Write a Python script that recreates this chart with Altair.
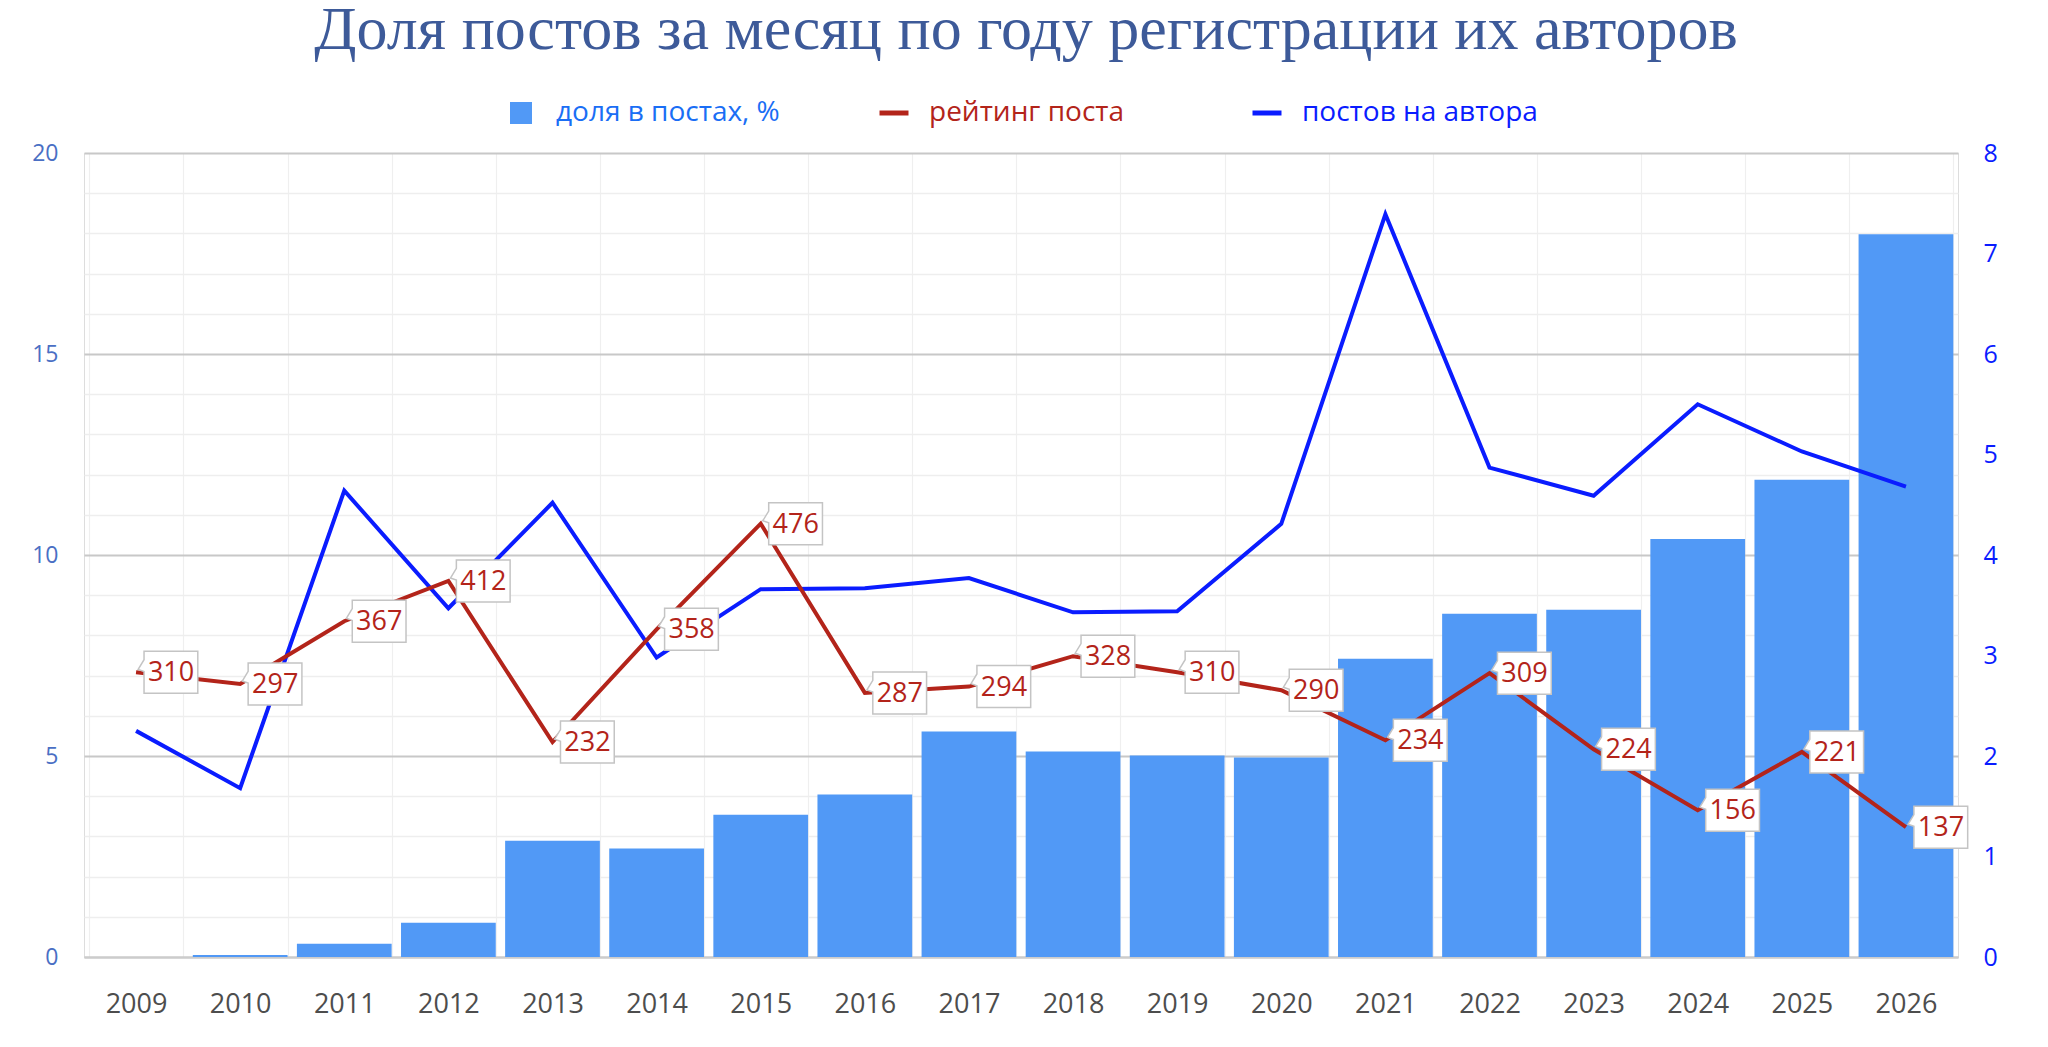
import altair as alt
import pandas as pd

years = [str(y) for y in range(2009, 2027)]
share_pct = [0.0, 0.05, 0.33, 0.85, 2.89, 2.70, 3.54, 4.04, 5.61, 5.11,
             5.01, 4.96, 7.42, 8.54, 8.64, 10.40, 11.87, 17.98]
rating = [310, 297, 367, 412, 232, 358, 476, 287, 294, 328,
          310, 290, 234, 309, 224, 156, 221, 137]
posts_per_author = [2.25, 1.68, 4.64, 3.47, 4.52, 2.98, 3.66, 3.67, 3.77, 3.43,
                    3.44, 4.31, 7.39, 4.87, 4.59, 5.50, 5.03, 4.68]

S_SHARE = "доля в постах, %"
S_RATING = "рейтинг поста"
S_PPA = "постов на автора"
TITLE = "Доля постов за месяц по году регистрации их авторов"

C_BAR = "#5199f6"
C_RED = "#b3241a"
C_BLUE = "#0a1cff"
C_LEG1 = "#1a6ef5"

df = pd.DataFrame({"year": years, "share": share_pct, "rating": rating, "ppa": posts_per_author})

FONT = "Open Sans"

x_enc = alt.X("year:N", title=None, sort=years,
              scale=alt.Scale(paddingInner=0.09, paddingOuter=0.045),
              axis=alt.Axis(labelAngle=0, labelFontSize=27, labelColor="#4d4d4d", labelFont=FONT,
                            ticks=False, labelPadding=34, domain=True, domainColor="#cccccc",
                            domainWidth=2, grid=True, gridColor="#efefef", gridWidth=1.2,
                            tickBand="extent"))

color_scale = alt.Scale(domain=[S_SHARE, S_RATING, S_PPA], range=[C_BAR, C_RED, C_BLUE])

sel1 = f"datum.value === '{S_SHARE}'"
col_expr = f"{sel1} ? '{C_BAR}' : datum.value === '{S_RATING}' ? '{C_RED}' : '{C_BLUE}'"
lab_expr = f"{sel1} ? '{C_LEG1}' : datum.value === '{S_RATING}' ? '{C_RED}' : '{C_BLUE}'"
SQUARE = "M-0.76,-0.76 L0.76,-0.76 L0.76,0.76 L-0.76,0.76 Z"

legend = alt.Legend(
    title=None, orient="none", legendX=423, legendY=-54, direction="horizontal",
    columns=3, gridAlign="all", columnPadding=77, symbolSize=841,
    symbolType={"expr": f"{sel1} ? '{SQUARE}' : 'stroke'"},
    symbolStrokeWidth={"expr": f"{sel1} ? 0 : 5"},
    symbolFillColor={"expr": col_expr},
    symbolStrokeColor={"expr": col_expr},
    symbolOpacity=1,
    labelFont=FONT, labelFontSize=28, labelOffset=21, labelLimit=400,
    labelColor={"expr": lab_expr},
)

color_enc = alt.Color("series:N", scale=color_scale, legend=legend)

bars = alt.Chart(df).transform_calculate(series=f"'{S_SHARE}'").mark_bar().encode(
    x=x_enc,
    y=alt.Y("share:Q", title=None, scale=alt.Scale(domain=[0, 20], nice=False),
            axis=alt.Axis(values=list(range(0, 21)), orient="left",
                          labelExpr="datum.value % 5 === 0 ? datum.label : ''",
                          labelFontSize=23, labelColor="#4a6fc4", labelFont=FONT, labelPadding=26,
                          ticks=False, domain=False, grid=True,
                          gridColor={"condition": {"test": "datum.value % 5 === 0", "value": "#c8c8c8"}, "value": "#eeeeee"},
                          gridWidth={"condition": {"test": "datum.value % 5 === 0", "value": 2}, "value": 1.5})),
    color=color_enc,
)

blue_line = alt.Chart(df).transform_calculate(series=f"'{S_PPA}'").mark_line(strokeWidth=4).encode(
    x=alt.X("year:N", sort=years),
    y=alt.Y("ppa:Q", title=None, scale=alt.Scale(domain=[0, 8], nice=False),
            axis=alt.Axis(values=list(range(0, 9)), orient="right", labelFontSize=25,
                          labelColor=C_BLUE, labelFont=FONT, labelPadding=25, ticks=False,
                          domain=False, grid=False)),
    color=color_enc,
)

rating_scale = alt.Scale(domain=[-8, 890], nice=False, zero=False)

red_line = alt.Chart(df).transform_calculate(series=f"'{S_RATING}'").mark_line(strokeWidth=4).encode(
    x=alt.X("year:N", sort=years),
    y=alt.Y("rating:Q", title=None, scale=rating_scale, axis=None),
    color=color_enc,
)

BOX = "M0.19,-0.5 L1.47,-0.5 L1.47,0.5 L0.19,0.5 L0.19,-0.02 L0.05,-0.07 L0.19,-0.3 Z"

boxes = alt.Chart(df).mark_point(shape=BOX, size=7056, filled=True, fill="white",
                                 stroke="#c4c4c4", strokeWidth=1.5, opacity=1).encode(
    x=alt.X("year:N", sort=years),
    y=alt.Y("rating:Q", scale=rating_scale, axis=None),
)

texts = alt.Chart(df).mark_text(dx=35, dy=1, align="center", baseline="middle",
                                fontSize=27, font=FONT, color=C_RED).encode(
    x=alt.X("year:N", sort=years),
    y=alt.Y("rating:Q", scale=rating_scale, axis=None),
    text=alt.Text("rating:Q"),
)

chart = alt.layer(bars, blue_line, red_line, boxes, texts).resolve_scale(
    y="independent"
).properties(
    width=1874, height=804,
    title=alt.TitleParams(TITLE, font="Liberation Serif", fontSize=62, fontWeight="normal",
                          color="#3d5a99", anchor="middle", frame="group", offset=0,
                          baseline="alphabetic", dx=5, dy=12),
    autosize=alt.AutoSizeParams(type="none"),
    padding={"left": 76, "top": 145, "right": 60, "bottom": 70},
).configure_view(stroke=None).configure(background="white")

chart.save("out.html", embed_options={"renderer": "svg", "actions": False})
